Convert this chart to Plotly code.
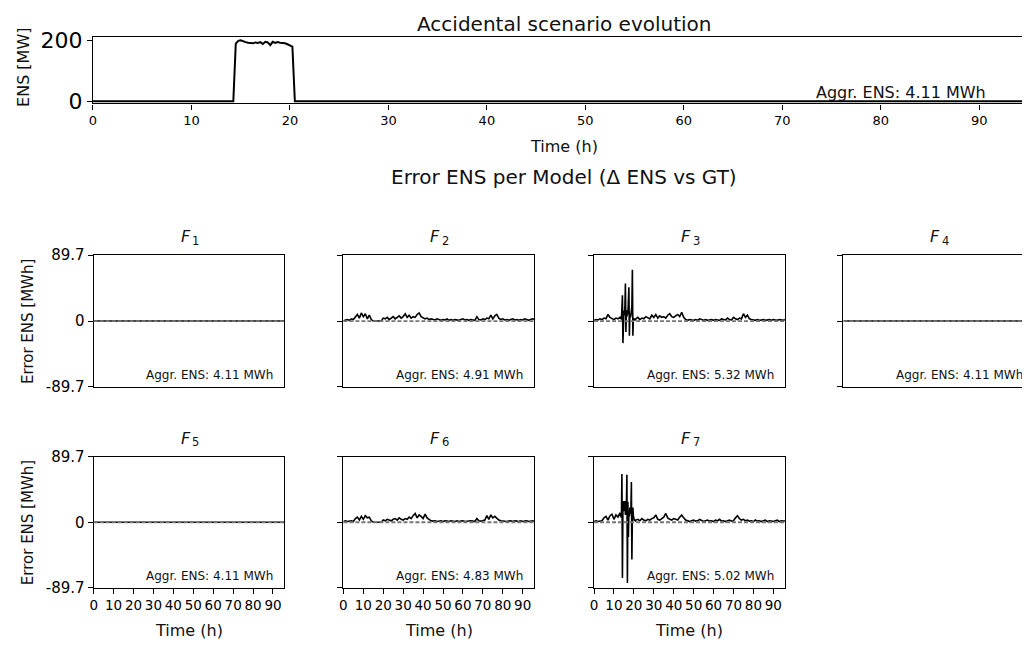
import plotly.graph_objects as go

# ---------------- data ----------------
# Top panel: accidental scenario ENS [MW]
ens_time = [0, 14.25, 14.5, 14.75, 15.0, 15.25, 15.5, 15.75, 16.0, 16.25, 16.5, 16.75,
            17.0, 17.25, 17.5, 17.75, 18.0, 18.25, 18.5, 18.75, 19.0, 19.25, 19.5, 19.75,
            20.0, 20.25, 20.5, 96]
ens_mw = [0, 0, 190, 199, 201, 197, 195, 193, 193, 191, 194, 192,
          195, 189, 196, 194, 185, 196, 192, 195, 193, 193, 191, 188,
          183, 180, 0, 0]

hours = list(range(0, 97))
spike_t = [13.25, 13.5, 13.75, 14.0, 14.25, 14.5, 14.75, 15.0, 15.25, 15.5, 15.75,
           16.0, 16.25, 16.5, 16.75, 17.0, 17.25, 17.5, 17.75, 18.0, 18.25, 18.5,
           18.75, 19.0, 19.25, 19.5, 19.75, 20.0, 20.25, 20.5, 20.75]
spike_hours = list(range(0, 14)) + spike_t + list(range(21, 97))

err_F1 = [0.0] * len(hours)
err_F4 = [0.0] * len(hours)
err_F5 = [0.0] * len(hours)

err_F2 = [0.5, 1.5, 2, 1, 3, 2,
          5, 9, 4, 11, 6, 10, 3, 8, 2,
          0, 0, 0.5, 0, 0,
          4,
          3, 5, 2, 4, 6, 3, 5, 7, 4, 6, 10, 5, 8, 4, 6, 5, 9, 11, 6, 4,
          3, 4, 2, 3, 2, 1.5, 3, 2, 1, 2, 1.5, 3, 1, 2, 1, 2, 1.5, 1, 2, 3, 1.5, 2, 1, 2, 1.5, 1,
          6,
          2, 1.5, 3, 2, 4, 3,
          8, 3, 7, 9, 4,
          2, 3, 1.5, 2, 1, 2, 3, 1.5, 2, 1, 2, 1.5, 3, 2, 1, 2, 3, 2]

err_F6 = [1, 2, 1, 1.5, 2, 1,
          5, 7, 3, 8, 4, 9, 6, 7, 2,
          0, 0, 0.5, 0, 0,
          3,
          2, 4, 3, 2, 4, 5, 3, 6, 4, 3, 5, 4, 7, 5, 9, 12, 6, 10, 8, 5, 11, 6, 4, 2, 1.5,
          2, 1, 1.5, 2, 1, 2, 1.5, 1, 2, 1.5, 1, 2, 1, 1.5, 2, 1, 1.5, 1, 2, 1.5, 1,
          5,
          2, 1.5, 2, 3,
          9, 4, 10, 6, 8, 5, 3,
          2, 1.5, 2, 1, 1.5, 2, 1, 2, 1.5, 1, 2, 1, 1.5, 2, 1, 1.5, 2, 1]

err_F3 = [1, 2, 1.5, 3, 2, 4, 3, 9, 5, 3, 2, 4, 3, 5,
          3, 5, 2, 18, 35, -30, 10, 14, 8, 20, 51, -15, 12, 6, 15, 9, 30, 46, -20, 10,
          5, 8, 12, 20, 70, -20, 4, 2, 3, 1, 2,
          3, 5, 2, 4, 3, 6, 4, 3, 8, 5, 9, 4, 7, 5, 6, 4, 8, 10, 6, 5, 7, 9, 6, 12, 5,
          2, 1, 2, 1.5, 1, 2, 1, 3, 1.5, 1, 2, 1, 1.5, 2, 1, 2, 1.5, 1, 3, 2, 1.5, 4, 2, 1.5, 5, 3, 2, 4, 3,
          10, 5, 8, 3,
          2, 1.5, 1, 2, 1, 1.5, 2, 1, 1.5, 2, 1, 2, 1.5, 1, 2, 1.5, 1, 2]

err_F7 = [1, 2, 1, 1.5, 2, 6, 8, 3, 9, 11, 4, 10, 7, 13,
          8, 12, 6, 66, -76, 20, 29, 15, 25, 29, 10, 18, 22, 65, -83, 28, -20, 15, 8, 20,
          12, 14, 55, -51, 10, 20, 9, 4, 2, 3, 2,
          3, 4, 2, 5, 3, 2, 4, 3, 5, 6, 10, 4, 3, 5, 7, 12, 6, 4, 3, 5, 4, 3, 7, 10, 6,
          3, 2, 1, 2, 3, 1.5, 2, 4, 2, 1, 2, 3, 1.5, 2, 1, 3, 2, 4, 1.5, 2, 1, 2, 3, 1.5, 2, 6, 9, 5, 3,
          4, 2, 3, 1.5,
          2, 1, 3, 1.5, 2, 1, 2, 3, 1, 2, 1.5, 1, 2, 3, 1, 2, 1.5, 2]

model_subs = ["1", "2", "3", "4", "5", "6", "7"]
model_x = [hours, hours, spike_hours, hours, hours, hours, spike_hours]
model_err = [err_F1, err_F2, err_F3, err_F4, err_F5, err_F6, err_F7]
model_aggr = ["4.11", "4.91", "5.32", "4.11", "4.11", "4.83", "5.02"]
top_aggr = "4.11"

x_ticks = [0, 10, 20, 30, 40, 50, 60, 70, 80, 90]
err_lim = 89.7
err_ticks = [-89.7, 0, 89.7]
err_tick_text = ["-89.7", "0", "89.7"]

# ---------------- layout geometry (screen pixels of the target) ----------------
W, H = 1030, 655
OFF = 8            # page body margin: the figure starts 8 px in from the window edge
FONT = "DejaVu Sans"
XMAX = 95.75
TOP_PX_PER_H = 9.886
SUB_PX_PER_H = 2.0


def px_x(p):
    return (p - OFF) / W


def px_y(p):
    return 1 - (p - OFF) / H


fig = go.Figure()

# top panel
top_left = 89.3
top_right = top_left + XMAX * TOP_PX_PER_H
top_top, top_bot = 29, 97
fig.add_trace(go.Scatter(x=ens_time, y=ens_mw, mode="lines",
                         line=dict(color="black", width=2), xaxis="x", yaxis="y",
                         hoverinfo="skip"))


def axis_common():
    return dict(showline=True, linecolor="black", linewidth=1.3, mirror=True,
                showgrid=False, zeroline=False, ticks="outside", ticklen=5,
                tickwidth=1.1, tickcolor="black", tickangle=0)


layout = dict(
    xaxis=dict(domain=[px_x(top_left), min(px_x(top_right), 1.0)], range=[0, XMAX],
               tickvals=x_ticks, tickfont=dict(family=FONT, size=13, color="black"),
               anchor="y", **axis_common()),
    yaxis=dict(domain=[px_y(top_bot), px_y(top_top)], range=[-7.4, 210.6],
               tickvals=[0, 200], tickfont=dict(family=FONT, size=22, color="black"),
               anchor="x", **axis_common()),
)

col_left = [90, 340.7, 592.3, 842.7]
sub_w = XMAX * SUB_PX_PER_H
rows = [(253.3, 389), (460.7, 596)]
positions = [(0, 0), (0, 1), (0, 2), (0, 3), (1, 0), (1, 1), (1, 2)]

annotations = []
shapes = []


def label(text, x, y, size, xanchor="center", yanchor="middle", angle=0, style="normal"):
    annotations.append(dict(text=text, x=px_x(x), y=px_y(y), xref="paper", yref="paper",
                            showarrow=False, xanchor=xanchor, yanchor=yanchor,
                            textangle=angle, borderpad=0,
                            font=dict(family=FONT, size=size, color="#111", style=style)))


label("Accidental scenario evolution", 562.5, 15.5, 20)
label("ENS [MW]", 19.5, 60, 16, angle=-90)
label("Time (h)", 562.5, 141, 16)
label("Aggr. ENS: %s MWh" % top_aggr, 987, 86, 16, xanchor="right")
label("Error ENS per Model (\u0394 ENS vs GT)", 562.5, 173, 20)

for i, (r, c) in enumerate(positions):
    n = i + 2
    xa, ya = "x%d" % n, "y%d" % n
    left = col_left[c]
    right = left + sub_w
    top, bot = rows[r]
    fig.add_trace(go.Scatter(x=model_x[i], y=model_err[i], mode="lines",
                             line=dict(color="black", width=1.6), xaxis=xa, yaxis=ya,
                             hoverinfo="skip"))
    show_x = (r == 1)
    show_y = (c == 0)
    xdict = dict(domain=[px_x(left), min(px_x(right), 1.0)], range=[0, XMAX], anchor=ya,
                 tickvals=x_ticks, showticklabels=show_x,
                 tickfont=dict(family=FONT, size=13.5, color="black"), **axis_common())
    if not show_x:
        xdict["ticks"] = ""
    ydict = dict(domain=[px_y(bot), px_y(top)], range=[-err_lim, err_lim], anchor=xa,
                 tickvals=err_ticks, ticktext=err_tick_text, showticklabels=show_y,
                 tickfont=dict(family=FONT, size=15, color="black"), **axis_common())
    layout["xaxis%d" % n] = xdict
    layout["yaxis%d" % n] = ydict

    shapes.append(dict(type="line", xref="%s domain" % xa, yref=ya, x0=0, x1=1, y0=0, y1=0,
                       line=dict(color="#777777", width=1.8, dash="4px,2px"), layer="above"))

    cx = left + sub_w / 2
    # subplot title: italic F with subscript index
    label("F", cx + 2.5, top - 19, 16, xanchor="right", style="italic")
    label(model_subs[i], cx + 2.3, top - 14.5, 11.5, xanchor="left")
    label("Aggr. ENS: %s MWh" % model_aggr[i], right - 10, bot - 12, 12, xanchor="right")
    if show_y:
        label("Error ENS [MWh]", 24, (top + bot) / 2, 15, angle=-90)
    if show_x:
        label("Time (h)", cx, 640, 16)

fig.update_layout(**layout)
fig.update_layout(width=W, height=H, margin=dict(l=0, r=0, t=0, b=0, pad=0),
                  showlegend=False, plot_bgcolor="white", paper_bgcolor="white",
                  annotations=annotations, shapes=shapes,
                  font=dict(family=FONT, color="black"))

fig.write_html("out.html", config={"displayModeBar": False})
